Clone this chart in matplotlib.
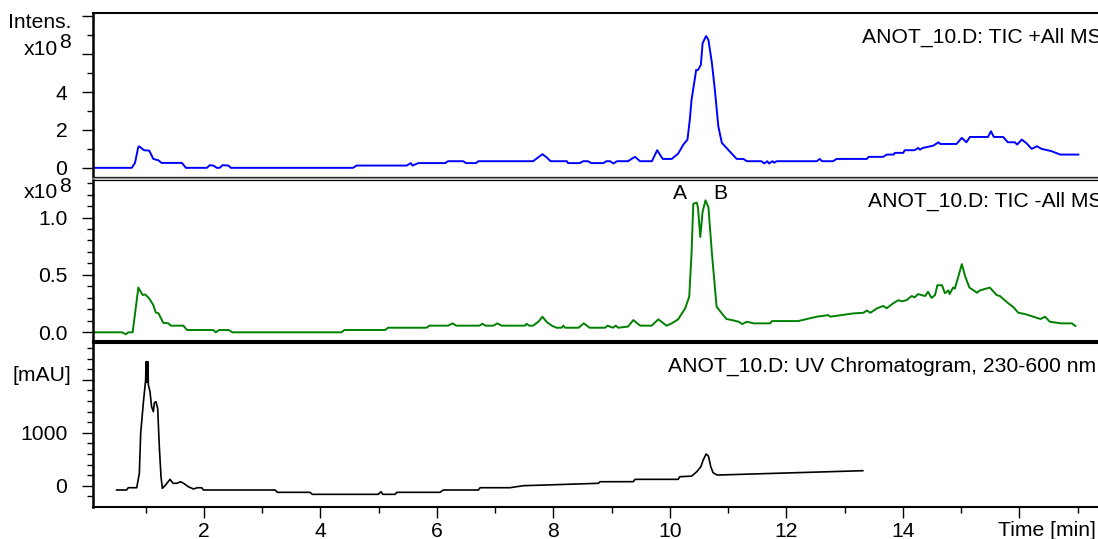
import matplotlib
matplotlib.use("Agg")
import matplotlib.pyplot as plt
from matplotlib.lines import Line2D
import numpy as np

plt.rcParams['font.family'] = ['Liberation Sans', 'DejaVu Sans']

# ---------------- data ----------------
# TIC +All MS (x1e8)
tic_pos_t = [0.10, 0.76, 0.815, 0.872, 0.89, 0.97, 1.06, 1.13, 1.216, 1.27,
             1.62, 1.69, 2.05, 2.10, 2.16, 2.22, 2.27, 2.32, 2.42, 2.46,
             4.56, 4.62, 5.48, 5.55, 5.58, 5.68, 6.14, 6.19, 6.45, 6.50,
             6.67, 6.71, 7.65, 7.74, 7.81, 7.88, 7.95, 8.23, 8.25, 8.45,
             8.51, 8.59, 8.65, 8.855, 8.91, 8.97, 9.03, 9.09, 9.28, 9.34,
             9.40, 9.485, 9.69, 9.78, 9.875, 10.03, 10.14, 10.23, 10.30, 10.34,
             10.37, 10.45, 10.48, 10.53, 10.56, 10.62, 10.66, 10.72, 10.77, 10.83,
             10.89, 10.97, 11.06, 11.145, 11.26, 11.32, 11.57, 11.62, 11.67, 11.70,
             11.76, 11.79, 11.83, 12.52, 12.57, 12.61, 12.80, 12.86, 13.38, 13.41,
             13.66, 13.72, 13.84, 13.86, 14.005, 14.03, 14.20, 14.26, 14.29, 14.34,
             14.52, 14.61, 14.64, 14.92, 15.01, 15.09, 15.15, 15.46, 15.51, 15.56,
             15.72, 15.80, 15.92, 15.96, 16.04, 16.12, 16.21, 16.30, 16.38, 16.55,
             16.70, 17.01]
tic_pos_v = [0, 0, 0.26, 1.10, 1.13, 0.93, 0.91, 0.47, 0.40, 0.26,
             0.26, 0, 0, 0.14, 0.12, 0, 0, 0.14, 0.12, 0,
             0, 0.12, 0.12, 0.25, 0.12, 0.25, 0.25, 0.35, 0.35, 0.25,
             0.25, 0.35, 0.35, 0.56, 0.72, 0.56, 0.35, 0.35, 0.25, 0.25,
             0.35, 0.35, 0.25, 0.25, 0.35, 0.35, 0.23, 0.35, 0.35, 0.47,
             0.58, 0.35, 0.35, 0.93, 0.47, 0.47, 0.75, 1.23, 1.49, 2.54,
             3.59, 5.17, 5.16, 5.44, 6.58, 6.96, 6.75, 5.53, 4.12, 2.19,
             1.32, 1.05, 0.75, 0.47, 0.47, 0.35, 0.35, 0.23, 0.35, 0.23,
             0.35, 0.27, 0.35, 0.35, 0.47, 0.35, 0.35, 0.47, 0.47, 0.58,
             0.58, 0.70, 0.70, 0.79, 0.79, 0.93, 0.93, 1.05, 0.96, 1.05,
             1.17, 1.35, 1.26, 1.26, 1.58, 1.35, 1.63, 1.63, 1.93, 1.63,
             1.63, 1.35, 1.35, 1.23, 1.49, 1.30, 1.00, 1.14, 1.00, 0.88,
             0.70, 0.70]

# TIC -All MS (x1e8)
tic_neg_t = [0.10, 0.59, 0.66, 0.70, 0.775, 0.873, 0.947, 0.99, 1.06, 1.13,
             1.17, 1.22, 1.30, 1.39, 1.43, 1.645, 1.71, 2.16, 2.20, 2.26,
             2.42, 2.49, 4.36, 4.41, 5.11, 5.16, 5.82, 5.87, 6.19, 6.27,
             6.33, 6.73, 6.78, 6.83, 6.97, 7.035, 7.11, 7.51, 7.54, 7.58,
             7.65, 7.74, 7.81, 7.88, 7.97, 8.05, 8.14, 8.17, 8.20, 8.43,
             8.52, 8.62, 8.885, 8.93, 9.02, 9.07, 9.11, 9.28, 9.37, 9.49,
             9.685, 9.80, 9.94, 10.03, 10.14, 10.26, 10.33, 10.37, 10.40, 10.46,
             10.48, 10.52, 10.56, 10.61, 10.66, 10.72, 10.80, 10.89, 10.97, 11.06,
             11.18, 11.24, 11.32, 11.44, 11.72, 11.75, 12.20, 12.52, 12.72, 12.75,
             13.15, 13.32, 13.38, 13.44, 13.55, 13.66, 13.72, 13.83, 13.92, 13.98,
             14.06, 14.15, 14.20, 14.26, 14.38, 14.43, 14.49, 14.55, 14.59, 14.67,
             14.72, 14.78, 14.80, 14.86, 14.89, 14.95, 15.01, 15.07, 15.14, 15.27,
             15.32, 15.49, 15.61, 15.665, 15.70, 15.81, 15.90, 15.98, 16.09, 16.24,
             16.36, 16.44, 16.52, 16.72, 16.90, 16.96]
tic_neg_v = [0, 0, -0.017, 0, 0, 0.39, 0.325, 0.33, 0.295, 0.237,
             0.174, 0.165, 0.083, 0.078, 0.058, 0.058, 0.02, 0.02, 0, 0.02,
             0.02, 0, 0, 0.02, 0.02, 0.04, 0.04, 0.058, 0.058, 0.078,
             0.058, 0.058, 0.075, 0.058, 0.058, 0.078, 0.058, 0.058, 0.075, 0.058,
             0.058, 0.092, 0.136, 0.092, 0.058, 0.04, 0.04, 0.058, 0.04, 0.04,
             0.078, 0.04, 0.04, 0.058, 0.04, 0.058, 0.04, 0.05, 0.107, 0.058,
             0.058, 0.113, 0.058, 0.078, 0.113, 0.208, 0.31, 0.687, 1.12, 1.13,
             1.09, 0.83, 1.05, 1.15, 1.09, 0.687, 0.223, 0.165, 0.116, 0.107,
             0.092, 0.072, 0.092, 0.078, 0.078, 0.098, 0.098, 0.136, 0.15, 0.136,
             0.165, 0.17, 0.19, 0.17, 0.208, 0.23, 0.21, 0.252, 0.28, 0.27,
             0.28, 0.316, 0.305, 0.333, 0.316, 0.353, 0.30, 0.324, 0.41, 0.41,
             0.34, 0.365, 0.333, 0.39, 0.38, 0.485, 0.594, 0.485, 0.39, 0.345,
             0.365, 0.39, 0.324, 0.316, 0.30, 0.252, 0.217, 0.17, 0.16, 0.136,
             0.116, 0.136, 0.092, 0.078, 0.078, 0.055]

# UV chromatogram 230-600 nm (mAU)
uv_t = [0.50, 0.67, 0.70, 0.845, 0.89, 0.913, 0.958, 0.998, 1.006, 1.012,
        1.02, 1.028, 1.036, 1.045, 1.073, 1.10, 1.13, 1.148, 1.175, 1.205,
        1.233, 1.262, 1.285, 1.34, 1.416, 1.47, 1.53, 1.60, 1.65, 1.73,
        1.82, 1.885, 1.96, 1.99, 3.22, 3.26, 3.82, 3.86, 4.99, 5.04,
        5.07, 5.28, 5.31, 6.05, 6.11, 6.71, 6.74, 7.25, 7.48, 8.77,
        8.80, 9.37, 9.40, 10.14, 10.17, 10.37, 10.46, 10.53, 10.57, 10.62,
        10.66, 10.70, 10.74, 10.81, 13.31]
uv_v = [-81, -81, -38, -38, 233, 988, 1555, 1994, 2340, 1950,
        2340, 1960, 2340, 1900, 1774, 1491, 1397, 1567, 1585, 1460,
        736, 170, -50, 13, 120, 45, 45, 75, 45, -19,
        -62, -38, -38, -81, -81, -125, -125, -163, -163, -113,
        -163, -163, -125, -125, -81, -81, -38, -38, 0, 45,
        75, 76, 120, 120, 170, 180, 264, 358, 485, 598,
        560, 358, 245, 201, 283]

top_title = "ANOT_10.D: TIC +All MS"
mid_title = "ANOT_10.D: TIC -All MS"
bot_title = "ANOT_10.D: UV Chromatogram, 230-600 nm"
x_major = [2, 4, 6, 8, 10, 12, 14, 16]
x_labels = ["2", "4", "6", "8", "10", "12", "14", ""]

# ---------------- layout ----------------
W, H = 1098, 539
fig = plt.figure(figsize=(W / 100, H / 100), dpi=100)
FS = 15.2

def fx(px):
    return px / W

def fy(py):
    return 1 - py / H

def add_ax(top_px, bot_px):
    left_px, right_px = 93.3, 1110
    return fig.add_axes([fx(left_px), fy(bot_px), (right_px - left_px) / W,
                         (bot_px - top_px) / H])

ax1 = add_ax(13.3, 177.0)
ax2 = add_ax(179.8, 340.5)
ax3 = add_ax(342.5, 506.7)

xlim = (0.0996, 17.554)
for ax in (ax1, ax2, ax3):
    ax.set_xlim(*xlim)
    ax.spines['right'].set_visible(False)
    ax.spines['left'].set_linewidth(1.8)
    ax.tick_params(axis='y', which='major', direction='out', length=7.7,
                   width=1.0, labelsize=FS, pad=11)
    ax.tick_params(axis='y', which='minor', direction='out', length=4.3,
                   width=1.0)
    ax.set_facecolor('white')

ax1.set_ylim(-0.484, 8.158)
ax2.set_ylim(-0.0713, 1.3287)
ax3.set_ylim(-396.2, 2701.9)

# spines
ax1.spines['top'].set_linewidth(1.5)
ax1.spines['bottom'].set_linewidth(0.9)
ax2.spines['top'].set_linewidth(0.9)
ax2.spines['bottom'].set_linewidth(1.5)
ax3.spines['top'].set_linewidth(1.5)
ax3.spines['bottom'].set_linewidth(1.5)
fig.add_artist(Line2D([fx(93.3), 1.0], [fy(178.4), fy(178.4)], color='#9a9a9a',
                      lw=1.0, transform=fig.transFigure))

# traces
ax1.plot(tic_pos_t, tic_pos_v, color='#0000ff', lw=1.4)
ax2.plot(tic_neg_t, tic_neg_v, color='#008000', lw=1.4)
ax3.plot(uv_t, uv_v, color='black', lw=1.2)

# x ticks
for ax in (ax1, ax2):
    ax.tick_params(axis='x', which='both', bottom=False, labelbottom=False)
ax3.set_xticks(x_major)
ax3.set_xticklabels(x_labels)
ax3.set_xticks(np.arange(1, 18, 2), minor=True)
ax3.tick_params(axis='x', which='major', direction='out', length=7.7, width=1.0,
                labelsize=FS, pad=3.0)
ax3.tick_params(axis='x', which='minor', direction='out', length=4.1, width=1.0)

# y ticks
ax1.set_yticks([0, 2, 4, 6, 8])
ax1.set_yticklabels(["0", "2", "4", "", ""])
ax1.set_yticks([1, 3, 5, 7], minor=True)

ax2.set_yticks([0.0, 0.5, 1.0])
ax2.set_yticklabels(["0.0", "0.5", "1.0"])
ax2.set_yticks([0.1, 0.2, 0.3, 0.4, 0.6, 0.7, 0.8, 0.9, 1.1, 1.2, 1.3], minor=True)

ax3.set_yticks([0, 1000, 2000])
ax3.set_yticklabels(["0", "1000", ""])
ax3.set_yticks([-200, 200, 400, 600, 800, 1200, 1400, 1600, 1800, 2200, 2400, 2600],
               minor=True)

# texts
fig.text(fx(71.5), fy(28.3), "Intens.", ha='right', va='baseline', fontsize=FS)
fig.text(fx(58.5), fy(55), "x10", ha='right', va='baseline', fontsize=FS)
fig.text(fx(59.5), fy(48.3), "8", ha='left', va='baseline', fontsize=FS)
fig.text(fx(58.5), fy(198.3), "x10", ha='right', va='baseline', fontsize=FS)
fig.text(fx(59.5), fy(191.7), "8", ha='left', va='baseline', fontsize=FS)
fig.text(fx(71.7), fy(381), "[mAU]", ha='right', va='baseline', fontsize=FS)

fig.text(fx(861.7), fy(42.7), top_title, ha='left', va='baseline', fontsize=FS)
fig.text(fx(868.3), fy(207), mid_title, ha='left', va='baseline', fontsize=FS)
fig.text(fx(668.3), fy(371.7), bot_title, ha='left', va='baseline', fontsize=FS)
fig.text(fx(680), fy(199.3), "A", ha='center', va='baseline', fontsize=FS)
fig.text(fx(720), fy(199.3), "B", ha='center', va='baseline', fontsize=FS)
fig.text(fx(998.3), fy(535.5), "Time [min]", ha='left', va='baseline', fontsize=FS)

fig.savefig("out.png", dpi=100, facecolor='white')
